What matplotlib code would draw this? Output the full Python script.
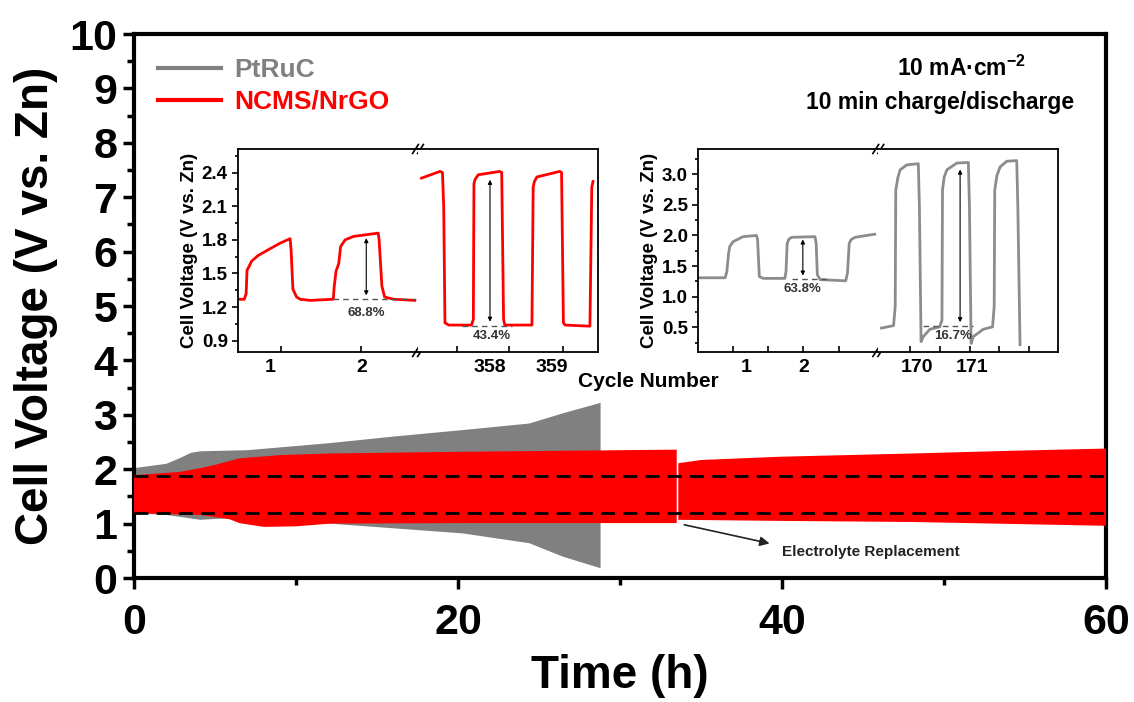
import numpy as np
import matplotlib.pyplot as plt
from matplotlib.lines import Line2D
from matplotlib.ticker import MultipleLocator, FixedLocator
import matplotlib.transforms as mtransforms

plt.rcParams['font.family'] = ['Liberation Sans', 'DejaVu Sans']
plt.rcParams['font.weight'] = 'bold'
plt.rcParams['mathtext.fontset'] = 'custom'
plt.rcParams['mathtext.rm'] = 'Liberation Sans:bold'
plt.rcParams['mathtext.bf'] = 'Liberation Sans:bold'

GRAY = '#808080'
RED = '#ff0000'

# ---- main panel: envelopes of the cycling band (time h, voltage V)
pt_hi_t = [0, 2.0, 2.8, 3.5, 4.1, 7.0, 12.1, 16.0, 20.3, 24.4, 26.5, 28.8]
pt_hi_v = [2.02, 2.10, 2.20, 2.30, 2.33, 2.35, 2.48, 2.60, 2.72, 2.84, 3.03, 3.22]
pt_lo_t = [0, 2.0, 4.1, 5.9, 8.0, 12.1, 20.3, 24.4, 26.5, 28.8]
pt_lo_v = [1.19, 1.16, 1.07, 1.10, 1.03, 1.00, 0.82, 0.64, 0.39, 0.18]

nc1_hi_t = [0, 2.8, 4.1, 5.0, 6.5, 9.0, 12.1, 20.0, 30.0, 33.5]
nc1_hi_v = [1.89, 1.95, 2.02, 2.08, 2.20, 2.26, 2.29, 2.32, 2.35, 2.36]
nc1_lo_t = [0, 4.1, 5.9, 6.5, 8.0, 10.0, 12.1, 20.0, 33.5]
nc1_lo_v = [1.19, 1.16, 1.08, 1.01, 0.94, 0.95, 1.00, 1.01, 1.01]

nc2_hi_t = [33.6, 35.0, 39.9, 48.1, 54.3, 60.0]
nc2_hi_v = [2.11, 2.17, 2.23, 2.29, 2.34, 2.38]
nc2_lo_t = [33.6, 40.0, 48.1, 60.0]
nc2_lo_v = [1.07, 1.05, 1.03, 0.96]

ref_levels = [1.88, 1.20]

# ---- inset 1 (NCMS/NrGO), cycle number vs voltage
red_l_c = [0.67, 0.72, 0.74, 0.75, 0.77, 0.80, 0.87, 1.00, 1.11, 1.22, 1.23, 1.25, 1.29,
           1.33, 1.44, 1.69, 1.70, 1.72, 1.75, 1.77, 1.82, 1.91, 2.18, 2.19, 2.22, 2.25,
           2.35, 2.58]
red_l_v = [1.27, 1.27, 1.32, 1.53, 1.56, 1.61, 1.66, 1.72, 1.77, 1.81, 1.71, 1.36, 1.29,
           1.27, 1.26, 1.27, 1.38, 1.52, 1.59, 1.74, 1.80, 1.83, 1.86, 1.80, 1.39, 1.29,
           1.27, 1.26]
red_r_c = [356.89, 357.19, 357.23, 357.25, 357.27, 357.33, 357.70, 357.73, 357.74, 357.76,
           357.81, 358.16, 358.19, 358.22, 358.24, 358.68, 358.70, 358.72, 358.76, 359.13,
           359.16, 359.19, 359.22, 359.62, 359.65, 359.67]
red_r_v = [2.35, 2.41, 2.40, 2.09, 1.06, 1.04, 1.04, 1.09, 2.30, 2.34,
           2.38, 2.41, 2.40, 1.09, 1.04, 1.04, 2.27, 2.32, 2.36, 2.41,
           2.40, 1.06, 1.04, 1.03, 2.27, 2.32]

# ---- inset 2 (PtRuC)
gray_l_c = [0.19, 0.64, 0.67, 0.70, 0.72, 0.78, 0.95, 1.18, 1.20, 1.23, 1.30, 1.67, 1.69,
            1.71, 1.74, 1.79, 2.19, 2.21, 2.23, 2.28, 2.72, 2.75, 2.78, 2.81, 2.88, 3.22]
gray_l_v = [1.31, 1.31, 1.41, 1.71, 1.82, 1.90, 1.98, 2.00, 1.93, 1.33, 1.30, 1.30, 1.41,
            1.87, 1.94, 1.97, 1.98, 1.87, 1.36, 1.28, 1.26, 1.39, 1.87, 1.93, 1.97, 2.02]
gray_r_c = [169.36, 169.58, 169.61, 169.62, 169.66, 169.70, 169.82, 170.03, 170.05, 170.08,
            170.12, 170.24, 170.42, 170.46, 170.47, 170.50, 170.55, 170.73, 170.94, 170.96,
            170.99, 171.03, 171.21, 171.38, 171.41, 171.42, 171.46, 171.52, 171.64, 171.82,
            171.84, 171.88]
gray_r_v = [0.49, 0.53, 0.84, 2.74, 2.95, 3.07, 3.15, 3.17, 2.47, 0.27,
            0.35, 0.47, 0.51, 0.62, 2.74, 2.95, 3.07, 3.18, 3.19, 2.47,
            0.24, 0.35, 0.47, 0.51, 0.84, 2.74, 2.98, 3.12, 3.21, 3.22,
            2.47, 0.22]

fig = plt.figure(figsize=(11.34, 7.02), dpi=100)
ax = fig.add_axes([0.1182, 0.1766, 0.8571, 0.7749])


def band(t_hi, v_hi, t_lo, v_lo, color, z):
    xs = np.r_[t_hi, t_lo[::-1]]
    ys = np.r_[v_hi, v_lo[::-1]]
    ax.fill(xs, ys, color=color, lw=0, zorder=z)


band(pt_hi_t, pt_hi_v, pt_lo_t, pt_lo_v, GRAY, 2)
band(nc1_hi_t, nc1_hi_v, nc1_lo_t, nc1_lo_v, RED, 3)
band(nc2_hi_t, nc2_hi_v, nc2_lo_t, nc2_lo_v, RED, 3)
for lv in ref_levels:
    ax.axhline(lv, color='black', lw=2, ls=(0, (5, 3)), zorder=4)

ax.set_xlim(0, 60)
ax.set_ylim(0, 10)
ax.xaxis.set_major_locator(MultipleLocator(20))
ax.xaxis.set_minor_locator(MultipleLocator(10))
ax.yaxis.set_major_locator(MultipleLocator(1))
ax.yaxis.set_minor_locator(MultipleLocator(0.5))
ax.tick_params(which='major', direction='out', length=8, width=2.5, labelsize=31, pad=4)
ax.tick_params(axis='x', which='major', pad=10)
ax.tick_params(which='minor', direction='out', length=5, width=2.5)
for s in ax.spines.values():
    s.set_linewidth(3)
ax.set_xlabel('Time (h)', fontsize=33, fontweight='bold', labelpad=8)
ax.set_ylabel('Cell Voltage (V vs. Zn)', fontsize=33, fontweight='bold', labelpad=8)

handles = [Line2D([], [], color=GRAY, lw=3), Line2D([], [], color=RED, lw=3)]
ax.legend(handles, ['PtRuC', 'NCMS/NrGO'], loc='upper left', bbox_to_anchor=(0.003, 0.995),
          frameon=False, prop={'size': 19, 'weight': 'bold'}, handlelength=2.4,
          handletextpad=0.5, labelspacing=0.3, borderaxespad=0.4, labelcolor='linecolor')

ax.text(0.851, 0.9375, r'10 mA·cm$^{-2}$', transform=ax.transAxes, fontsize=16.5,
        fontweight='bold', ha='center', va='center')
ax.text(0.829, 0.875, '10 min charge/discharge', transform=ax.transAxes, fontsize=16.5,
        fontweight='bold', ha='center', va='center')

ax.annotate('', xy=(39.4, 0.625), xytext=(33.8, 0.99),
            arrowprops=dict(arrowstyle='-|>', color='#222222', lw=1.2, mutation_scale=14))
ax.text(40.0, 0.48, 'Electrolyte Replacement', fontsize=11, fontweight='bold',
        color='#222222', ha='left', va='center')


def inset(rect_l, rect_r, xl, xr, yl, ymaj, ymin, cl, vl, cr, vr, color,
          ticks_l, ticks_r, labs_l, labs_r):
    al = fig.add_axes(rect_l)
    ar = fig.add_axes(rect_r)
    al.plot(cl, vl, color=color, lw=2)
    ar.plot(cr, vr, color=color, lw=2)
    al.set_xlim(*xl)
    ar.set_xlim(*xr)
    for a in (al, ar):
        a.set_ylim(*yl)
        for s in a.spines.values():
            s.set_linewidth(1.3)
        a.tick_params(axis='x', which='both', direction='in', length=4, width=1.2,
                      labelbottom=False)
        a.tick_params(axis='y', which='major', direction='out', length=4, width=1.2,
                      labelsize=13.5)
        a.tick_params(axis='y', which='minor', direction='out', length=2.5, width=1.2)
    al.spines['right'].set_visible(False)
    ar.spines['left'].set_visible(False)
    ar.tick_params(axis='y', which='both', left=False, labelleft=False)
    al.yaxis.set_major_locator(MultipleLocator(ymaj))
    al.yaxis.set_minor_locator(MultipleLocator(ymin))
    al.yaxis.set_major_formatter('{x:.1f}')
    al.xaxis.set_major_locator(FixedLocator(ticks_l))
    ar.xaxis.set_major_locator(FixedLocator(ticks_r))
    for a, labs in ((al, labs_l), (ar, labs_r)):
        tr = mtransforms.blended_transform_factory(a.transData, a.transAxes)
        for v in labs:
            a.text(v, -0.035, str(v), transform=tr, ha='center', va='top',
                   fontsize=14, fontweight='bold')
    al.set_ylabel('Cell Voltage (V vs. Zn)', fontsize=13.5, fontweight='bold', labelpad=3)
    # axis break marks
    for y0 in (0, 1):
        for dx in (-0.014, 0.014):
            al.plot([1 + dx - 0.016, 1 + dx + 0.016], [y0 - 0.022, y0 + 0.022],
                    transform=al.transAxes, color='black', lw=1.2, clip_on=False)
    return al, ar


a1l, a1r = inset([0.2101, 0.4986, 0.1585, 0.2892], [0.3686, 0.4986, 0.1587, 0.2892],
                 (0.654, 2.614), (356.833, 359.75), (0.80, 2.61), 0.3, 0.15,
                 red_l_c, red_l_v, red_r_c, red_r_v, RED,
                 [1.117, 1.992], [357.46, 358.31, 359.18], [1, 2], [358, 359])
a2l, a2r = inset([0.6158, 0.4986, 0.1587, 0.2892], [0.7745, 0.4986, 0.1587, 0.2892],
                 (0.178, 3.281), (169.302, 172.575), (0.10, 3.41), 0.5, 0.25,
                 gray_l_c, gray_l_v, gray_r_c, gray_r_v, '#8c8c8c',
                 [0.78, 1.38, 1.99, 2.60], [169.88, 170.42, 170.97, 171.50, 172.05],
                 [1, 2], [170, 171])

arrow = dict(arrowstyle='<|-|>', color='black', lw=0.8, mutation_scale=6)
a1l.hlines(1.27, 1.69, 2.58, colors='#555555', lw=1, linestyles=(0, (4, 3)))
a1l.annotate('', xy=(2.05, 1.84), xytext=(2.05, 1.28), arrowprops=arrow)
a1l.text(2.05, 1.15, '68.8%', fontsize=9.5, color='#333333', ha='center', va='center')
a1r.hlines(1.035, 357.55, 358.35, colors='#555555', lw=1, linestyles=(0, (4, 3)))
a1r.annotate('', xy=(358.0, 2.36), xytext=(358.0, 1.045), arrowprops=arrow)
a1r.text(358.03, 0.945, '43.4%', fontsize=9.5, color='#333333', ha='center', va='center')
a2l.hlines(1.29, 1.79, 2.40, colors='#555555', lw=1, linestyles=(0, (4, 3)))
a2l.annotate('', xy=(1.98, 1.98), xytext=(1.98, 1.30), arrowprops=arrow)
a2l.text(1.98, 1.12, '63.8%', fontsize=9.5, color='#333333', ha='center', va='center')
a2r.hlines(0.53, 170.12, 171.03, colors='#555555', lw=1, linestyles=(0, (4, 3)))
a2r.annotate('', xy=(170.79, 3.12), xytext=(170.79, 0.54), arrowprops=arrow)
a2r.text(170.67, 0.36, '16.7%', fontsize=9.5, color='#333333', ha='center', va='center')

fig.text(0.5714, 0.457, 'Cycle Number', fontsize=15, fontweight='bold',
         ha='center', va='center')

fig.savefig('out.png', dpi=100)
